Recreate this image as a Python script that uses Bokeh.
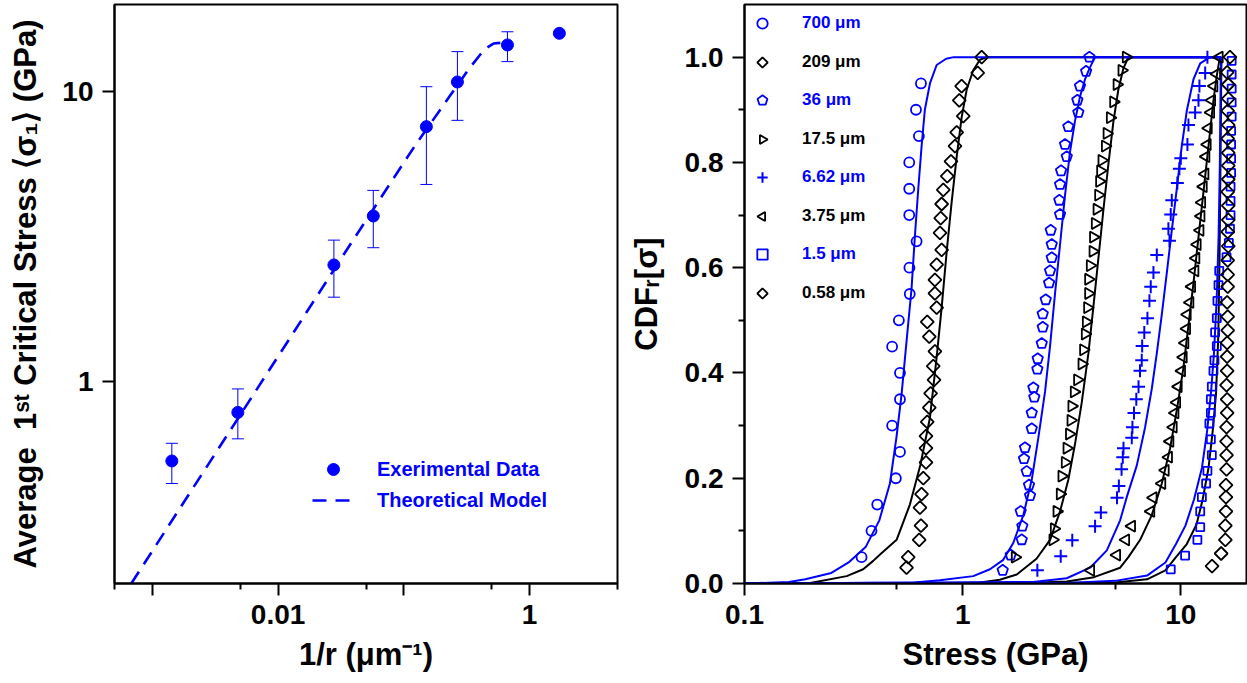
from math import pi

from bokeh.plotting import figure
from bokeh.layouts import row
from bokeh.models import (ColumnDataSource, Whisker, TeeHead, FixedTicker,
                          CustomJSTickFormatter, Legend, LegendItem, Range1d)
from bokeh.embed import file_html
from bokeh.resources import INLINE

FONT = "Liberation Sans"
BLUE = "#0000ff"
BLACK = "#000000"

# ---------------- left panel: average first critical stress vs 1/r ----------------
radii_um = [700, 209, 36, 17.5, 6.62, 3.75, 1.5, 0.58]
inv_radius = [1.0 / r for r in radii_um]
avg_stress = [0.53, 0.78, 2.52, 3.72, 7.57, 10.8, 14.5, 15.9]
err_upper = [0.61, 0.94, 3.07, 4.56, 10.4, 13.75, 16.1]
err_lower = [0.443, 0.632, 1.95, 2.89, 4.78, 7.96, 12.7]

model_inv_radius = [0.00068, 0.0135, 0.0353, 0.1235, 0.27, 0.33, 0.407, 0.46, 0.516, 0.60]
model_stress = [0.2, 1.49, 2.85, 6.54, 10.6, 12.0, 13.46, 14.2, 14.66, 14.75]

left_x_ticks = [0.001, 0.01, 0.1, 1]
left_x_labels = ["", "0.01", "", "1"]
left_x_minor = [0.0005, 0.005, 0.05, 0.5, 5]
left_y_ticks = [1, 10]
left_y_labels = ["1", "10"]
left_y_minor = []

left_x_title = "1/r (\u03bcm\u207b\u00b9)"
left_y_title = "Average\u00a0 1\u02e2\u1d57 Critical Stress \u27e8\u03c3\u2081\u27e9 (GPa)"

# ---------------- right panel: cumulative distributions of stress ----------------
s700_x = [0.344, 0.382, 0.406, 0.494, 0.516, 0.475, 0.516, 0.516, 0.475, 0.510,
          0.572, 0.570, 0.615, 0.569, 0.569, 0.569, 0.630, 0.611, 0.644]
s700_y = [0.05, 0.10, 0.15, 0.20, 0.25, 0.30, 0.35, 0.40, 0.45, 0.50,
          0.55, 0.60, 0.65, 0.70, 0.75, 0.80, 0.85, 0.90, 0.95]

s209_x = [0.553, 0.563, 0.632, 0.644, 0.637, 0.648, 0.660, 0.679, 0.679, 0.679,
          0.688, 0.703, 0.713, 0.739, 0.733, 0.746, 0.703, 0.688, 0.760, 0.746,
          0.746, 0.760, 0.801, 0.787, 0.793, 0.801, 0.815, 0.850, 0.884, 0.922,
          0.939, 1.006, 0.965, 0.989, 1.172, 1.222]
s209_y = [0.030, 0.050, 0.083, 0.110, 0.144, 0.170, 0.200, 0.230, 0.257, 0.280,
          0.307, 0.334, 0.361, 0.387, 0.413, 0.441, 0.469, 0.497, 0.524, 0.551,
          0.577, 0.606, 0.634, 0.666, 0.694, 0.721, 0.748, 0.774, 0.802, 0.831,
          0.857, 0.888, 0.918, 0.945, 0.970, 1.000]

s36_x = [1.526, 1.66, 1.865, 1.877, 1.845, 2.036, 2.014, 1.966, 1.911, 1.931,
         2.073, 2.073, 2.13, 2.109, 2.20, 2.208, 2.304, 2.328, 2.328, 2.403,
         2.489, 2.515, 2.56, 2.56, 2.533, 2.795, 2.773, 2.795, 2.825, 3.0,
         2.946, 3.05, 3.39, 3.355, 3.45, 3.68, 3.81]
s36_y = [0.025, 0.054, 0.083, 0.109, 0.137, 0.167, 0.187, 0.213, 0.237, 0.258,
         0.294, 0.324, 0.354, 0.372, 0.407, 0.427, 0.456, 0.487, 0.512, 0.539,
         0.571, 0.594, 0.619, 0.644, 0.671, 0.701, 0.728, 0.758, 0.784, 0.811,
         0.834, 0.868, 0.895, 0.918, 0.945, 0.973, 1.000]

s17_x = [1.738, 2.587, 2.624, 2.70, 2.795, 2.845, 2.946, 3.0, 3.08, 3.13,
         3.16, 3.24, 3.355, 3.515, 3.575, 3.64, 3.68, 3.73, 3.77, 3.77,
         3.837, 3.95, 3.97, 4.045, 4.12, 4.19, 4.233, 4.28, 4.34, 4.50,
         4.58, 4.74, 4.91, 5.09, 5.36, 5.61]
s17_y = [0.050, 0.083, 0.104, 0.137, 0.170, 0.204, 0.230, 0.257, 0.284, 0.310,
         0.337, 0.364, 0.387, 0.417, 0.444, 0.474, 0.497, 0.524, 0.551, 0.578,
         0.604, 0.631, 0.658, 0.684, 0.711, 0.738, 0.764, 0.784, 0.804, 0.831,
         0.855, 0.885, 0.915, 0.948, 0.975, 1.000]

s662_x = [2.2, 2.815, 3.18, 4.045, 4.3, 5.1, 5.2, 5.35, 5.42, 5.46,
          5.96, 6.0, 6.1, 6.25, 6.4, 6.5, 6.62, 6.65, 6.8, 7.03,
          7.18, 7.28, 7.49, 7.76, 8.87, 8.77, 8.99, 9.09, 9.64, 9.85,
          10.0, 10.72, 10.84, 11.63, 12.05, 12.17, 12.93, 13.24]
s662_y = [0.025, 0.052, 0.082, 0.109, 0.135, 0.163, 0.185, 0.217, 0.240, 0.257,
          0.277, 0.297, 0.324, 0.350, 0.374, 0.404, 0.424, 0.451, 0.477, 0.504,
          0.537, 0.564, 0.591, 0.624, 0.651, 0.674, 0.701, 0.728, 0.761, 0.788,
          0.808, 0.834, 0.871, 0.895, 0.918, 0.945, 0.970, 1.000]

s375_x = [3.87, 5.09, 5.6, 5.96, 7.3, 7.48, 8.2, 8.5, 8.8, 8.93,
          9.25, 9.42, 9.59, 9.75, 10.1, 10.28, 10.46, 10.65, 10.72, 11.03,
          11.23, 11.63, 11.75, 11.91, 12.27, 12.4, 12.49, 12.7, 12.93, 13.06,
          13.24, 13.39, 13.73, 13.87, 14.21, 14.62, 15.03]
s375_y = [0.025, 0.054, 0.083, 0.109, 0.137, 0.163, 0.190, 0.215, 0.240, 0.270,
          0.297, 0.324, 0.344, 0.374, 0.404, 0.430, 0.457, 0.484, 0.511, 0.534,
          0.564, 0.594, 0.618, 0.644, 0.671, 0.698, 0.724, 0.754, 0.778, 0.811,
          0.834, 0.865, 0.895, 0.918, 0.945, 0.968, 1.000]

s15_x = [8.99, 10.46, 11.91, 12.27, 12.27, 12.49, 13.06, 13.24, 13.87, 13.73,
         13.52, 13.73, 13.73, 13.87, 14.11, 14.26, 14.62, 14.36, 14.62, 14.72,
         14.88, 15.0, 16.2, 16.6, 16.8, 16.9, 16.9, 16.9, 17.0, 17.0,
         17.0, 17.0, 17.1, 17.1, 17.1, 17.1, 17.1]
s15_y = [0.027, 0.053, 0.083, 0.107, 0.137, 0.164, 0.190, 0.214, 0.244, 0.274,
         0.304, 0.324, 0.350, 0.374, 0.404, 0.424, 0.451, 0.477, 0.504, 0.537,
         0.567, 0.594, 0.620, 0.647, 0.674, 0.700, 0.727, 0.754, 0.780, 0.807,
         0.834, 0.860, 0.887, 0.914, 0.940, 0.967, 0.993]

s058_x = [13.9, 15.3, 16.0, 16.0, 16.1, 16.1, 16.1, 16.2, 16.2, 16.2,
          16.2, 16.3, 16.3, 16.2, 16.3, 16.3, 16.3, 16.4, 16.4, 16.3,
          16.4, 16.4, 16.4, 16.5, 16.4, 16.5, 16.5, 16.4, 16.5, 16.5,
          16.5, 16.4, 16.5, 16.4, 16.5, 16.5, 16.3, 16.8]
s058_y = [0.033, 0.057, 0.083, 0.110, 0.137, 0.164, 0.187, 0.217, 0.244, 0.270,
          0.297, 0.324, 0.350, 0.377, 0.404, 0.431, 0.457, 0.481, 0.507, 0.534,
          0.564, 0.587, 0.614, 0.641, 0.668, 0.691, 0.718, 0.744, 0.768, 0.794,
          0.818, 0.845, 0.871, 0.898, 0.921, 0.948, 0.971, 1.000]

# fitted cumulative distributions
fit700_x = [0.1, 0.16, 0.19, 0.25, 0.30, 0.36, 0.415, 0.464, 0.498, 0.525, 0.553,
            0.583, 0.604, 0.626, 0.648, 0.671, 0.708, 0.76, 0.84, 0.91, 15.3]
fit700_y = [0.0, 0.003, 0.008, 0.02, 0.04, 0.07, 0.12, 0.19, 0.28, 0.36, 0.46,
            0.56, 0.66, 0.75, 0.83, 0.90, 0.95, 0.985, 0.997, 1.0, 1.0]
fit209_x = [0.1, 0.2, 0.294, 0.35, 0.389, 0.418, 0.498, 0.573, 0.64, 0.708, 0.760,
            0.801, 0.845, 0.890, 0.939, 0.989, 1.043, 1.118, 1.20, 1.288, 15.3]
fit209_y = [0.0, 0.001, 0.014, 0.027, 0.043, 0.055, 0.083, 0.15, 0.225, 0.315, 0.43,
            0.524, 0.631, 0.724, 0.811, 0.885, 0.938, 0.975, 0.995, 1.0, 1.0]
fit36_x = [0.1, 0.6, 0.787, 1.118, 1.334, 1.535, 1.706, 1.897, 2.073, 2.223, 2.385,
           2.515, 2.651, 2.795, 2.946, 3.10, 3.27, 3.45, 3.64, 3.837, 4.05, 15.3]
fit36_y = [0.0, 0.002, 0.006, 0.014, 0.027, 0.045, 0.077, 0.13, 0.197, 0.277, 0.364,
           0.451, 0.551, 0.644, 0.738, 0.818, 0.878, 0.925, 0.958, 0.981, 1.0, 1.0]
fit17_x = [0.1, 0.9, 1.2, 1.48, 1.77, 2.18, 2.515, 2.795, 3.05, 3.27, 3.515,
           3.77, 3.97, 4.19, 4.42, 4.66, 4.91, 5.17, 5.45, 5.75, 15.3]
fit17_y = [0.0, 0.0005, 0.002, 0.007, 0.017, 0.047, 0.083, 0.137, 0.197, 0.264, 0.344,
           0.437, 0.524, 0.618, 0.711, 0.798, 0.878, 0.938, 0.978, 1.0, 1.0]
fit662_x = [0.1, 2.1, 3.0, 3.84, 4.58, 5.27, 5.65, 6.28, 6.86, 7.36, 7.76,
            8.18, 8.63, 9.09, 9.59, 10.1, 10.65, 11.43, 12.27, 13.6, 15.3]
fit662_y = [0.0, 0.003, 0.01, 0.03, 0.063, 0.12, 0.164, 0.224, 0.297, 0.37, 0.437,
            0.511, 0.591, 0.671, 0.751, 0.831, 0.898, 0.958, 0.988, 1.0, 1.0]
fit375_x = [0.1, 2.0, 3.0, 4.0, 5.27, 5.75, 6.51, 7.36, 8.18, 8.93, 9.59, 10.28,
            10.84, 11.43, 12.05, 12.7, 13.39, 14.11, 14.62, 15.1, 15.3]
fit375_y = [0.0, 0.001, 0.004, 0.012, 0.03, 0.05, 0.083, 0.13, 0.19, 0.257, 0.33, 0.41,
            0.491, 0.571, 0.658, 0.744, 0.831, 0.918, 0.965, 1.0, 1.0]
fit15_x = [0.1, 3.0, 5.0, 7.0, 8.5, 9.5, 10.5, 11.5, 12.5, 13.2, 13.8, 14.2,
           14.6, 14.9, 15.1, 15.2, 15.3]
fit15_y = [0.0, 0.001, 0.005, 0.015, 0.04, 0.075, 0.11, 0.16, 0.22, 0.29, 0.37, 0.44,
           0.54, 0.66, 0.80, 0.93, 1.0]
fit058_x = [0.1, 5.0, 7.0, 8.5, 9.5, 10.65, 11.8, 12.6, 13.4, 14.0, 14.5, 14.85,
            15.05, 15.2, 15.3, 15.35]
fit058_y = [0.0, 0.002, 0.008, 0.025, 0.05, 0.075, 0.112, 0.16, 0.22, 0.29, 0.36, 0.47,
            0.62, 0.8, 0.93, 1.0]

right_x_ticks = [0.1, 1, 10]
right_x_labels = ["0.1", "1", "10"]
right_x_minor = [0.5, 5]
right_y_ticks = [0.0, 0.2, 0.4, 0.6, 0.8, 1.0]
right_y_labels = ["0.0", "0.2", "0.4", "0.6", "0.8", "1.0"]
right_y_minor = [0.1, 0.3, 0.5, 0.7, 0.9]

right_x_title = "Stress (GPa)"
right_y_title = "CDF\u1d63[\u03c3]"

LABEL_CODE = """
for (let i = 0; i < vals.length; i++) {
  if (Math.abs(vals[i] - tick) <= 1e-9 * Math.max(1, Math.abs(vals[i]))) return labs[i];
}
return "";
"""


def style_axes(p, xt, xl, xm, yt, yl, ym, xtitle, ytitle, ystandoff):
    for ax, t, lab, m in ((p.xaxis[0], xt, xl, xm), (p.yaxis[0], yt, yl, ym)):
        ax.ticker = FixedTicker(ticks=t, minor_ticks=m)
        ax.formatter = CustomJSTickFormatter(args=dict(vals=t, labs=lab), code=LABEL_CODE)
        ax.axis_line_width = 2
        ax.axis_line_color = BLACK
        ax.major_tick_line_width = 2
        ax.minor_tick_line_width = 2
        ax.major_tick_out = 12
        ax.major_tick_in = 0
        ax.minor_tick_out = 6
        ax.minor_tick_in = 0
        ax.major_label_text_font = FONT
        ax.major_label_text_font_style = "bold"
        ax.major_label_text_font_size = "28px"
        ax.major_label_text_color = BLACK
        ax.major_label_standoff = 9
        ax.axis_label_text_font = FONT
        ax.axis_label_text_font_style = "bold"
        ax.axis_label_text_font_size = "31px"
        ax.axis_label_text_color = BLACK
    p.xaxis[0].axis_label = xtitle
    p.yaxis[0].axis_label = ytitle
    p.xaxis[0].axis_label_standoff = 10
    p.yaxis[0].axis_label_standoff = ystandoff
    p.xgrid.visible = False
    p.ygrid.visible = False
    p.outline_line_color = BLACK
    p.outline_line_width = 2
    p.outline_line_alpha = 1.0


# ---------------- left figure ----------------
left = figure(frame_width=503, frame_height=579, x_axis_type="log", y_axis_type="log",
              x_range=Range1d(0.0005, 5), y_range=Range1d(0.2, 20),
              min_border_left=114, min_border_right=7, min_border_top=4,
              min_border_bottom=100, toolbar_location=None, output_backend="svg",
              background_fill_color="white", border_fill_color="white")
style_axes(left, left_x_ticks, left_x_labels, left_x_minor,
           left_y_ticks, left_y_labels, left_y_minor, left_x_title, left_y_title, 16)

err_src = ColumnDataSource(dict(x=inv_radius[:len(err_upper)], hi=err_upper, lo=err_lower))
left.add_layout(Whisker(source=err_src, base="x", upper="hi", lower="lo", dimension="height",
                        line_color=BLUE, line_width=1,
                        upper_head=TeeHead(size=12, line_color=BLUE, line_width=1),
                        lower_head=TeeHead(size=12, line_color=BLUE, line_width=1)))
model_r = left.line(model_inv_radius, model_stress, line_color=BLUE, line_width=2.6,
                    line_dash="14 9")
dots_r = left.scatter(inv_radius, avg_stress, marker="circle", size=12,
                      fill_color=BLUE, line_color=BLUE)

left.add_layout(Legend(items=[LegendItem(label="Exerimental Data", renderers=[dots_r]),
                              LegendItem(label="Theoretical Model", renderers=[model_r])],
                       location=(198, 68), orientation="vertical",
                       label_text_font=FONT, label_text_font_style="bold",
                       label_text_font_size="20px", label_text_color=BLUE,
                       glyph_width=42, glyph_height=30, label_height=30, label_standoff=23,
                       spacing=1, padding=0, margin=0, border_line_color=None,
                       background_fill_alpha=0))

# ---------------- right figure ----------------
right = figure(frame_width=502, frame_height=579, x_axis_type="log",
               x_range=Range1d(0.1, 20), y_range=Range1d(0.0, 1.1),
               min_border_left=120, min_border_right=1, min_border_top=4,
               min_border_bottom=100, toolbar_location=None, output_backend="svg",
               background_fill_color="white", border_fill_color="white")
style_axes(right, right_x_ticks, right_x_labels, right_x_minor,
           right_y_ticks, right_y_labels, right_y_minor, right_x_title, right_y_title, 18)

fits = [(fit209_x, fit209_y, BLACK), (fit17_x, fit17_y, BLACK),
        (fit375_x, fit375_y, BLACK), (fit058_x, fit058_y, BLACK),
        (fit700_x, fit700_y, BLUE), (fit36_x, fit36_y, BLUE),
        (fit662_x, fit662_y, BLUE), (fit15_x, fit15_y, BLUE)]
for fx, fy, col in fits:
    right.line(fx, fy, line_color=col, line_width=2)

mk = dict(fill_color=None, line_width=1.8)
r700 = right.scatter(s700_x, s700_y, marker="circle", size=10, line_color=BLUE, **mk)
r209 = right.ngon(x=s209_x, y=s209_y, radius=6.5, radius_units="screen", n=4,
                  line_color=BLACK, **mk)
r36 = right.ngon(x=s36_x, y=s36_y, radius=5.5, radius_units="screen", n=5,
                 line_color=BLUE, **mk)
r17 = right.ngon(x=s17_x, y=s17_y, radius=6.5, radius_units="screen", n=3, angle=-pi / 2,
                 line_color=BLACK, **mk)
r662 = right.scatter(s662_x, s662_y, marker="cross", size=13, line_color=BLUE, line_width=2)
r375 = right.ngon(x=s375_x, y=s375_y, radius=6.5, radius_units="screen", n=3, angle=pi / 2,
                  line_color=BLACK, **mk)
r15 = right.scatter(s15_x, s15_y, marker="square", size=8, line_color=BLUE, **mk)
r058 = right.ngon(x=s058_x, y=s058_y, radius=6.5, radius_units="screen", n=4,
                  line_color=BLACK, **mk)


def legend(items, color, bottom):
    return Legend(items=items, location=(5, bottom), orientation="vertical",
                  label_text_font=FONT, label_text_font_style="bold",
                  label_text_font_size="17px", label_text_color=color,
                  glyph_width=26, glyph_height=26, label_height=26, label_standoff=27,
                  spacing=51, padding=0, margin=0, border_line_color=None,
                  background_fill_alpha=0)


right.add_layout(legend([LegendItem(label="700 \u03bcm", renderers=[r700]),
                         LegendItem(label="36 \u03bcm", renderers=[r36]),
                         LegendItem(label="6.62 \u03bcm", renderers=[r662]),
                         LegendItem(label="1.5 \u03bcm", renderers=[r15])], BLUE, 316))
right.add_layout(legend([LegendItem(label="209 \u03bcm", renderers=[r209]),
                         LegendItem(label="17.5 \u03bcm", renderers=[r17]),
                         LegendItem(label="3.75 \u03bcm", renderers=[r375]),
                         LegendItem(label="0.58 \u03bcm", renderers=[r058])], BLACK, 277))

page = row(left, right)
open("out.html", "w").write(file_html(page, INLINE))
